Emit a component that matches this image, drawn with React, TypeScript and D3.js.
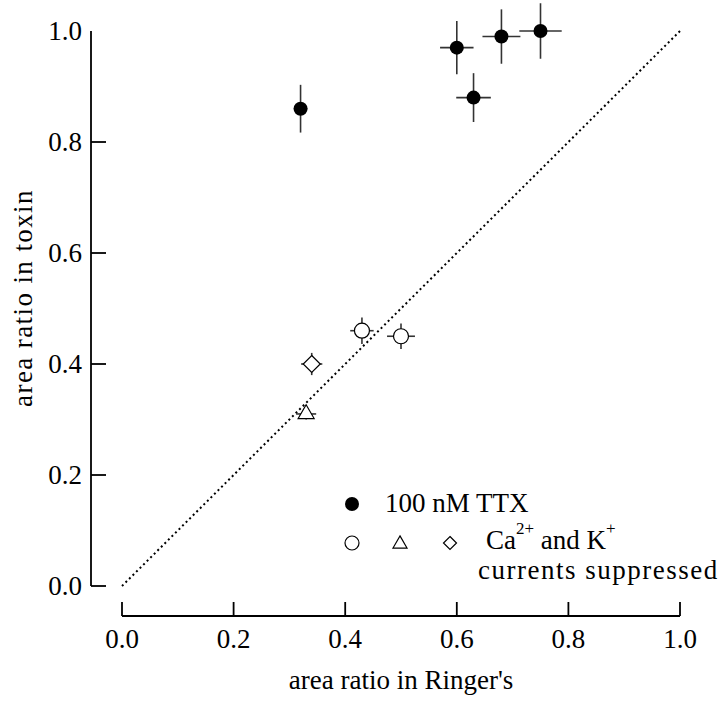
import React, { useEffect } from "react";
import * as d3 from "d3";

const ttxX = [0.32, 0.6, 0.63, 0.68, 0.75];
const ttxY = [0.86, 0.97, 0.88, 0.99, 1.0];
const ttxXErr = [0.012, 0.03, 0.031, 0.034, 0.038];
const ttxYErr = [0.043, 0.048, 0.044, 0.049, 0.05];

const circX = [0.43, 0.5];
const circY = [0.46, 0.45];
const circXErr = [0.021, 0.025];
const circYErr = [0.024, 0.023];

const triX = [0.33];
const triY = [0.31];
const triXErr = [0.018];
const triYErr = [0.01];

const diaX = [0.34];
const diaY = [0.4];
const diaXErr = [0.019];
const diaYErr = [0.02];

const xTicks = [0, 0.2, 0.4, 0.6, 0.8, 1.0];
const yTicks = [0, 0.2, 0.4, 0.6, 0.8, 1.0];
const yTickMarks = [0, 0.2, 0.4, 0.6, 0.8];

const FONT = "'Liberation Serif', serif";

export default function App() {
  useEffect(() => {
    document.body.style.margin = "0";
  }, []);
  const W = 720, H = 711;
  const x = d3.scaleLinear().domain([0, 1]).range([122, 680]);
  const y = d3.scaleLinear().domain([0, 1]).range([586, 31]);
  const yAxisX = 91;
  const xAxisY = 616;
  const fmt = d3.format(".1f");
  const errColor = "#333";
  const FS = 27;

  const errBars = (xs: number[], ys: number[], xe: number[], ye: number[], key: string) =>
    xs.map((v, i) => (
      <g key={key + i} stroke={errColor} strokeWidth={1.6}>
        <line x1={x(v - xe[i])} x2={x(v + xe[i])} y1={y(ys[i])} y2={y(ys[i])} />
        <line x1={x(v)} x2={x(v)} y1={y(ys[i] - ye[i])} y2={y(ys[i] + ye[i])} />
      </g>
    ));

  const triPath = (cx: number, cy: number, s: number) => {
    const h = s * Math.sqrt(3) / 2;
    return `M${cx},${cy - h * 2 / 3}L${cx + s / 2},${cy + h / 3}L${cx - s / 2},${cy + h / 3}Z`;
  };
  const diaPath = (cx: number, cy: number, r: number) =>
    `M${cx},${cy - r}L${cx + r},${cy}L${cx},${cy + r}L${cx - r},${cy}Z`;

  const line = d3.line<number>().x((d) => x(d)).y((d) => y(d));

  return (
    <svg width={W} height={H} style={{ display: "block", background: "#fff" }} fontFamily={FONT}>
      {/* y axis */}
      <line x1={yAxisX} x2={yAxisX} y1={y(1)} y2={y(0)} stroke="#000" strokeWidth={1.8} />
      {yTickMarks.map((t) => (
        <line key={"yt" + t} x1={yAxisX} x2={yAxisX + 15} y1={y(t)} y2={y(t)} stroke="#000" strokeWidth={1.8} />
      ))}
      {yTicks.map((t) => (
        <text key={"yl" + t} x={82} y={y(t)} dy="0.34em" textAnchor="end" fontSize={FS}>
          {fmt(t)}
        </text>
      ))}
      {/* x axis */}
      <line x1={x(0)} x2={x(1)} y1={xAxisY} y2={xAxisY} stroke="#000" strokeWidth={1.8} />
      {xTicks.map((t) => (
        <line key={"xt" + t} x1={x(t)} x2={x(t)} y1={xAxisY} y2={xAxisY - 14} stroke="#000" strokeWidth={1.8} />
      ))}
      {xTicks.map((t) => (
        <text key={"xl" + t} x={x(t)} y={648} textAnchor="middle" fontSize={FS}>
          {fmt(t)}
        </text>
      ))}
      <text x={401} y={689} textAnchor="middle" fontSize={FS}>area ratio in Ringer's</text>
      <text transform={`translate(32,${298}) rotate(-90)`} textAnchor="middle" fontSize={FS} letterSpacing={1.4}>
        area ratio in toxin
      </text>

      {/* identity line */}
      <path d={line([0, 1]) || ""} stroke="#000" strokeWidth={2} strokeDasharray="2,3" fill="none" />

      {/* error bars */}
      {errBars(ttxX, ttxY, ttxXErr, ttxYErr, "ttx")}
      {errBars(circX, circY, circXErr, circYErr, "c")}
      {errBars(triX, triY, triXErr, triYErr, "t")}
      {errBars(diaX, diaY, diaXErr, diaYErr, "d")}

      {/* markers */}
      {ttxX.map((v, i) => (
        <circle key={"f" + i} cx={x(v)} cy={y(ttxY[i])} r={7} fill="#000" />
      ))}
      {circX.map((v, i) => (
        <circle key={"o" + i} cx={x(v)} cy={y(circY[i])} r={7.5} fill="#fff" stroke="#000" strokeWidth={1.2} />
      ))}
      {triX.map((v, i) => (
        <path key={"tr" + i} d={triPath(x(v), y(triY[i]), 16)} fill="#fff" stroke="#000" strokeWidth={1.2} />
      ))}
      {diaX.map((v, i) => (
        <path key={"di" + i} d={diaPath(x(v), y(diaY[i]), 8.5)} fill="#fff" stroke="#000" strokeWidth={1.2} />
      ))}

      {/* legend */}
      <circle cx={352} cy={504} r={7} fill="#000" />
      <text x={385} y={512} fontSize={FS}>100 nM TTX</text>
      <circle cx={352} cy={543} r={7} fill="#fff" stroke="#000" strokeWidth={1.2} />
      <path d={triPath(400, 544, 14)} fill="#fff" stroke="#000" strokeWidth={1.2} />
      <path d={diaPath(450, 543, 6.5)} fill="#fff" stroke="#000" strokeWidth={1.2} />
      <text x={486} y={549} fontSize={FS}>
        Ca<tspan fontSize={17} dy={-15}>2+</tspan>
        <tspan dy={15}> and K</tspan>
        <tspan fontSize={17} dy={-15}>+</tspan>
      </text>
      <text x={478} y={579} fontSize={FS} letterSpacing={1.5}>currents suppressed</text>
    </svg>
  );
}
